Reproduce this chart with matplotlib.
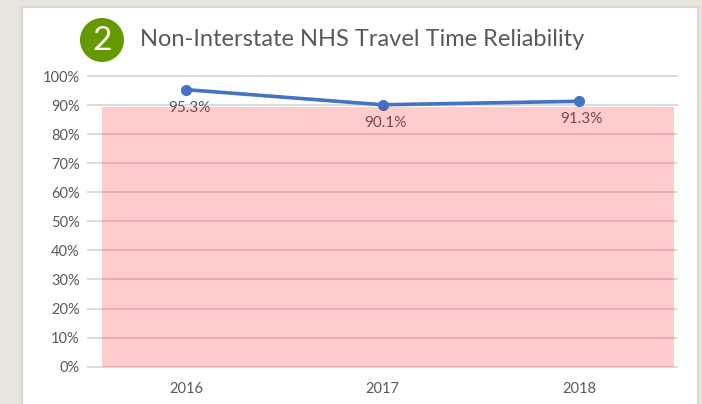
import matplotlib.pyplot as plt
from matplotlib.patches import Rectangle, Ellipse

# datos del grafico
years = ["2016", "2017", "2018"]
reliability = [95.3, 90.1, 91.3]
target = 89.4
y_ticks = [0, 10, 20, 30, 40, 50, 60, 70, 80, 90, 100]
title = "Non-Interstate NHS Travel Time Reliability"

W, H = 702, 404
fig = plt.figure(figsize=(W / 100, H / 100), dpi=100)
fig.patch.set_facecolor("#e8e6df")

# panel blanco
fig.add_artist(Rectangle((22 / W, -0.05), 676 / W, 1.05 - 7 / H,
                         transform=fig.transFigure, facecolor="white",
                         edgecolor="#d6d6d6", linewidth=1.5, zorder=0))

ax = fig.add_axes([88 / W, (H - 366.7) / H, 589 / W, 290.7 / H])
ax.set_facecolor("none")
x = list(range(len(years)))

ax.set_ylim(0, 100)
ax.set_xlim(-0.5, 2.5)
ax.set_yticks(y_ticks)
ax.set_yticklabels([f"{t}%" for t in y_ticks])
ax.set_xticks(x)
ax.set_xticklabels(years)
for s in ax.spines.values():
    s.set_visible(False)
ax.tick_params(length=0, labelsize=10.5, labelcolor="#595959", pad=6)
ax.tick_params(axis="x", pad=11)
for lab in ax.get_xticklabels() + ax.get_yticklabels():
    lab.set_fontfamily("Lato")
ax.yaxis.grid(True, color="#d9d9d9", linewidth=1.3, zorder=1, clip_on=False)
ax.set_axisbelow(True)

ax.plot(x, reliability, color="#4472c4", linewidth=2.6, marker="o",
        markersize=7, zorder=3, clip_on=False)
for xi, v in zip(x, reliability):
    ax.annotate(f"{v:.1f}%", (xi, v), xytext=(2, -13), textcoords="offset points",
                ha="center", va="center", fontsize=11, color="#595959",
                family="Lato", zorder=3)

# zona roja transparente encima
ax.add_patch(Rectangle((-0.429, 0), 2.914, target, facecolor="#ff0000",
                       alpha=0.2, edgecolor="none", zorder=5))

# circulo verde con el numero
fig.add_artist(Ellipse((102 / W, 1 - 40 / H), 44 / W, 44 / H,
                       transform=fig.transFigure, facecolor="#669900",
                       edgecolor="none", zorder=2))
fig.text(102 / W, 1 - 41 / H, "2", ha="center", va="center", color="white",
         fontsize=24, family="Lato")
fig.text(140 / W, 1 - 39 / H, title, ha="left", va="center", color="#595959",
         fontsize=17, family="Lato")

fig.savefig("out.png", dpi=100, facecolor=fig.get_facecolor())
